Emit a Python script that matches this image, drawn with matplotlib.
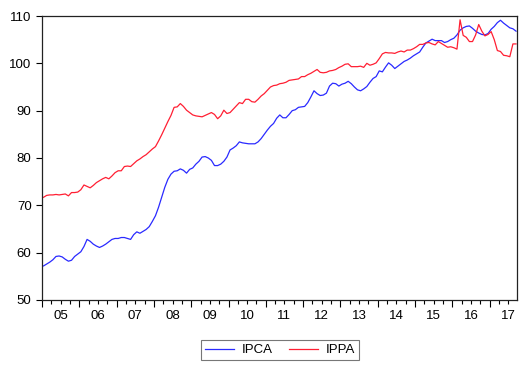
import matplotlib
matplotlib.use("Agg")
import numpy as np
import matplotlib.pyplot as plt
from matplotlib.ticker import FixedLocator, NullFormatter

plt.rcParams.update({"font.family": ["Liberation Sans", "DejaVu Sans"], "font.size": 9})

# monthly series, Jan 2005 .. Sep 2017
ipca = [
    57.2, 57.6, 58.0, 58.5, 59.2, 59.3, 59.1, 58.6, 58.2, 58.4, 59.2, 59.7,        # 2005
    60.2, 61.3, 62.8, 62.4, 61.8, 61.4, 61.1, 61.4, 61.8, 62.3, 62.8, 63.0,        # 2006
    63.0, 63.2, 63.2, 63.0, 62.8, 63.8, 64.4, 64.1, 64.5, 64.9, 65.5, 66.6,        # 2007
    67.8, 69.6, 71.7, 73.8, 75.5, 76.6, 77.2, 77.3, 77.7, 77.4, 76.8, 77.6,        # 2008
    77.9, 78.7, 79.3, 80.2, 80.3, 80.0, 79.5, 78.4, 78.4, 78.7, 79.3, 80.2,        # 2009
    81.7, 82.1, 82.6, 83.4, 83.2, 83.1, 83.0, 83.0, 83.0, 83.4, 84.1, 85.0,        # 2010
    85.9, 86.7, 87.3, 88.4, 89.1, 88.5, 88.5, 89.2, 90.0, 90.2, 90.7, 90.8,        # 2011
    90.9, 91.7, 92.9, 94.2, 93.6, 93.2, 93.3, 93.7, 95.2, 95.8, 95.7, 95.2,        # 2012
    95.6, 95.8, 96.2, 95.7, 95.0, 94.4, 94.2, 94.6, 95.1, 96.0, 96.8, 97.2,        # 2013
    98.4, 98.2, 99.2, 100.1, 99.6, 98.9, 99.4, 99.9, 100.4, 100.7, 101.1, 101.6,   # 2014
    102.0, 102.4, 103.4, 104.3, 104.7, 105.1, 104.8, 104.8, 104.8, 104.4, 104.6, 105.0,  # 2015
    105.3, 106.0, 107.0, 107.5, 107.8, 107.9, 107.4, 106.8, 106.4, 106.1, 106.0, 106.3,  # 2016
    107.2, 107.8, 108.6, 109.1, 108.5, 108.0, 107.5, 107.3, 106.8,                       # 2017
]
ippa = [
    71.7, 72.1, 72.2, 72.2, 72.3, 72.2, 72.3, 72.4, 72.0, 72.7, 72.7, 72.8,        # 2005
    73.3, 74.3, 74.0, 73.7, 74.2, 74.8, 75.2, 75.6, 75.9, 75.6, 76.2, 76.9,        # 2006
    77.3, 77.3, 78.2, 78.3, 78.2, 78.8, 79.4, 79.8, 80.3, 80.7, 81.3, 81.9,        # 2007
    82.4, 83.6, 84.9, 86.3, 87.7, 89.0, 90.7, 90.8, 91.5, 90.9, 90.1, 89.6,        # 2008
    89.1, 88.9, 88.8, 88.7, 89.0, 89.3, 89.6, 89.2, 88.3, 88.9, 90.1, 89.4,        # 2009
    89.6, 90.3, 91.0, 91.7, 91.5, 92.4, 92.4, 91.9, 91.8, 92.4, 93.1, 93.6,        # 2010
    94.3, 95.0, 95.3, 95.4, 95.7, 95.8, 96.0, 96.4, 96.5, 96.6, 96.7, 97.2,        # 2011
    97.2, 97.6, 97.9, 98.3, 98.7, 98.1, 98.0, 98.1, 98.4, 98.5, 98.7, 99.1,        # 2012
    99.4, 99.8, 99.9, 99.3, 99.3, 99.3, 99.4, 99.15, 100.0, 99.6, 99.8, 100.1,     # 2013
    101.0, 102.0, 102.3, 102.2, 102.2, 102.1, 102.4, 102.6, 102.4, 102.8, 102.8, 103.1,  # 2014
    103.5, 104.0, 104.0, 104.3, 104.4, 104.1, 103.9, 104.6, 104.2, 103.8, 103.4, 103.5,  # 2015
    103.3, 103.0, 109.2, 105.9, 105.5, 104.6, 104.6, 106.0, 108.2, 106.8, 105.8, 106.1,  # 2016
    106.7, 105.0, 102.7, 102.5, 101.7, 101.6, 101.4, 104.1, 104.1,                       # 2017
]
years = list(range(2005, 2018))
year_labels = [f"{y % 100:02d}" for y in years]

t = 2005 + (np.arange(len(ipca)) + 0.5) / 12

fig = plt.figure(figsize=(5.25, 3.69), dpi=100)
ax = fig.add_axes([42 / 525, 1 - 300 / 369, 475 / 525, 284 / 369])

l1, = ax.plot(t, ipca, color="#2a2aff", lw=0.9, label="IPCA")
l2, = ax.plot(t, ippa, color="#ff1f33", lw=0.9, label="IPPA")

ax.set_xlim(2005, 2005 + 475 / 37.3)
ax.set_ylim(50, 110)
ax.set_yticks(range(50, 111, 10))

# year boundaries = long ticks, quarters = short ticks, labels centred on the year
ax.xaxis.set_major_locator(FixedLocator(years))
ax.xaxis.set_major_formatter(NullFormatter())
quarters = [y + q / 4 for y in years for q in (1, 2, 3)]
ax.xaxis.set_minor_locator(FixedLocator(quarters))
ax.tick_params(axis="x", which="major", length=5, width=0.8, direction="out")
ax.tick_params(axis="x", which="minor", length=3, width=0.8, direction="out")
ax.tick_params(axis="y", length=4, width=0.8, direction="out", labelsize=9.5)
for y, lab in zip(years, year_labels):
    if y + 0.5 < ax.get_xlim()[1]:
        ax.text(y + 0.5, -0.035, lab, transform=ax.get_xaxis_transform(),
                ha="center", va="top", fontsize=9.5)

for s in ax.spines.values():
    s.set_linewidth(0.9)
    s.set_color("#222222")

leg = fig.legend(handles=[l1, l2], loc="center", bbox_to_anchor=(280 / 525, 1 - 350 / 369),
                 ncol=2, frameon=True, fancybox=False, edgecolor="#555555",
                 fontsize=9.5, handlelength=2.2, columnspacing=1.2, borderpad=0.3,
                 handletextpad=0.6)
leg.get_frame().set_linewidth(0.8)

fig.savefig("out.png", dpi=100)
